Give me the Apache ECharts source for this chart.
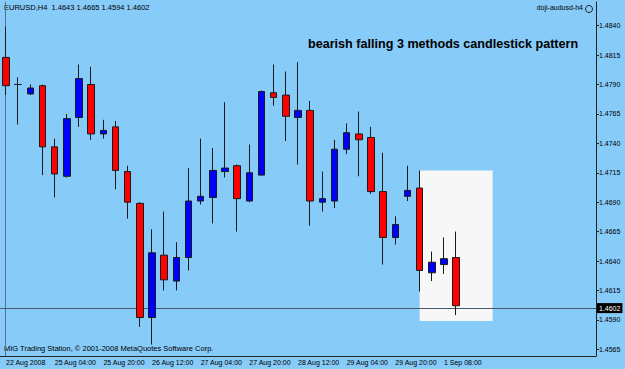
<!DOCTYPE html>
<html>
<head>
<meta charset="utf-8">
<script src="https://cdn.jsdelivr.net/npm/echarts@6/dist/echarts.min.js"></script>
<style>
html, body { margin: 0; padding: 0; background: #87CBF9; }
#chart { width: 625px; height: 369px; }
</style>
</head>
<body>
<div id="chart"></div>
<script>
// H4 bars, EURUSD
var times = ['22 Aug 16:00','22 Aug 20:00','24 Aug 20:00','25 Aug 00:00','25 Aug 04:00','25 Aug 08:00','25 Aug 12:00','25 Aug 16:00',
	'25 Aug 20:00','26 Aug 00:00','26 Aug 04:00','26 Aug 08:00','26 Aug 12:00','26 Aug 16:00','26 Aug 20:00','27 Aug 00:00',
	'27 Aug 04:00','27 Aug 08:00','27 Aug 12:00','27 Aug 16:00','27 Aug 20:00','28 Aug 00:00','28 Aug 04:00','28 Aug 08:00',
	'28 Aug 12:00','28 Aug 16:00','28 Aug 20:00','29 Aug 00:00','29 Aug 04:00','29 Aug 08:00','29 Aug 12:00','29 Aug 16:00',
	'29 Aug 20:00','31 Aug 20:00','1 Sep 00:00','1 Sep 04:00','1 Sep 08:00','1 Sep 12:00'];
// empty slots right of the last bar
var emptyTimes = ['1 Sep 16:00','1 Sep 20:00','2 Sep 00:00','2 Sep 04:00','2 Sep 08:00','2 Sep 12:00','2 Sep 16:00','2 Sep 20:00',
	'3 Sep 00:00','3 Sep 04:00','3 Sep 08:00'];

var open  = [1.4813,1.4790,1.4782,1.4789,1.4737,1.4712,1.4762,1.4790,1.4748,1.4754,1.4716,1.4689,1.4592,1.4645,1.4623,1.4643,1.4691,1.4694,1.4716,
	1.4721,1.4691,1.4713,1.4783,1.4781,1.4762,1.4768,1.4690,1.4691,1.4735,1.4748,1.4745,1.4699,1.4660,1.4695,1.4702,1.4630,1.4637,1.4643];
var close = [1.4789,1.4790,1.4787,1.4737,1.4714,1.4761,1.4795,1.4748,1.4751,1.4717,1.4690,1.4592,1.4647,1.4624,1.4643,1.4691,1.4695,1.4717,1.4719,
	1.4693,1.4715,1.4784,1.4779,1.4763,1.4768,1.4691,1.4693,1.4735,1.4749,1.4743,1.4699,1.4660,1.4671,1.4700,1.4632,1.4639,1.4642,1.4602];
var low   = [1.4781,1.4756,1.4781,1.4713,1.4694,1.4711,1.4754,1.4743,1.4744,1.4701,1.4676,1.4584,1.4569,1.4615,1.4615,1.4632,1.4688,1.4672,1.4711,
	1.4665,1.4690,1.4713,1.4772,1.4742,1.4722,1.4670,1.4682,1.4685,1.4731,1.4712,1.4697,1.4637,1.4654,1.4691,1.4614,1.4623,1.4629,1.4594];
var high  = [1.4839,1.4796,1.4790,1.4790,1.4744,1.4765,1.4807,1.4805,1.4760,1.4759,1.4721,1.4690,1.4667,1.4682,1.4656,1.4719,1.4744,1.4736,1.4775,
	1.4722,1.4739,1.4785,1.4807,1.4801,1.4809,1.4776,1.4716,1.4743,1.4757,1.4767,1.4754,1.4732,1.4678,1.4721,1.4717,1.4648,1.4660,1.4665];

var priceTicks = [1.4565,1.4590,1.4615,1.4640,1.4665,1.4690,1.4715,1.4740,1.4765,1.4790,1.4815,1.4840];
var lastPrice = 1.4602;
// highlighted pattern box
var boxFrom = '1 Sep 00:00', boxTo = '2 Sep 00:00';
var boxTop = 1.4717, boxBottom = 1.4589;

var yMin = 1.45593, yMax = 1.48601;
var smallFont = 'Liberation Sans';

var candles = [];
for (var i = 0; i < times.length; i++) {
	candles.push([open[i], close[i], low[i], high[i]]);
}
var showLabel = function (idx) {
	return idx < times.length && idx % 4 === 0;
};

var myChart = echarts.init(document.getElementById('chart'), null, {renderer: 'svg'});
var option = {
	backgroundColor: '#87CBF9',
	animation: false,
	grid: {left: -3, right: 29, top: 2, bottom: 13},
	xAxis: {
		type: 'category',
		data: times.concat(emptyTimes),
		boundaryGap: true,
		axisLine: {lineStyle: {color: '#222', width: 1}},
		axisTick: {interval: showLabel, alignWithLabel: true, length: 3, lineStyle: {color: '#222'}},
		axisLabel: {
			interval: showLabel,
			align: 'left',
			margin: 3,
			fontSize: 7,
			fontFamily: smallFont,
			color: '#000',
			formatter: function (v, idx) { return idx === 0 ? '22 Aug 2008' : v; }
		},
		splitLine: {show: false}
	},
	yAxis: [{
		type: 'value',
		position: 'right',
		min: yMin,
		max: yMax,
		axisLine: {show: true, lineStyle: {color: '#222'}},
		axisTick: {show: true, length: 3, customValues: priceTicks, lineStyle: {color: '#222'}},
		axisLabel: {
			customValues: priceTicks,
			margin: 3,
			fontSize: 7,
			fontFamily: smallFont,
			color: '#000',
			formatter: function (v) { return v.toFixed(4); }
		},
		splitLine: {show: false}
	}, {
		type: 'value',
		position: 'left',
		offset: -5,
		min: yMin,
		max: yMax,
		axisLine: {show: true, lineStyle: {color: '#55708a'}},
		axisTick: {show: false},
		axisLabel: {show: false},
		splitLine: {show: false}
	}],
	graphic: [
		{type: 'text', left: 4, top: 3, style: {text: 'EURUSD,H4  1.4643 1.4665 1.4594 1.4602', font: '7.5px ' + smallFont, fill: '#000'}},
		{type: 'text', left: 308, top: 37, style: {text: 'bearish falling 3 methods candlestick pattern', font: 'bold 12.6px Liberation Sans', fill: '#000'}},
		{type: 'text', right: 42, top: 4, style: {text: 'doji-audusd-h4', font: '7px ' + smallFont, fill: '#000'}},
		{type: 'circle', shape: {cx: 589, cy: 9, r: 3.5}, style: {fill: 'none', stroke: '#222', lineWidth: 1}},
		{type: 'text', left: 4, top: 344, style: {text: 'MIG Trading Station, \u00a9 2001-2008 MetaQuotes Software Corp.', font: '7.5px ' + smallFont, fill: '#000'}}
	],
	series: [{
		name: 'EURUSD',
		type: 'candlestick',
		z: 3,
		barWidth: 7,
		data: candles,
		itemStyle: {
			color: '#0000FF',
			color0: '#FF0000',
			borderColor: '#1a1a1a',
			borderColor0: '#1a1a1a',
			borderWidth: 1
		},
		markArea: {
			z: 1,
			silent: true,
			itemStyle: {color: '#F7F7F7'},
			data: [[{xAxis: boxFrom, yAxis: boxTop}, {xAxis: boxTo, yAxis: boxBottom}]]
		},
		markLine: {
			z: 2,
			silent: true,
			symbol: ['none', 'none'],
			lineStyle: {color: '#4a5a66', width: 1, type: 'solid'},
			label: {
				position: 'end',
				distance: 1,
				formatter: lastPrice.toFixed(4),
				backgroundColor: '#000',
				color: '#fff',
				padding: [2, 2, 1, 2],
				fontSize: 7,
				fontFamily: smallFont
			},
			data: [{yAxis: lastPrice}]
		}
	}]
};
myChart.setOption(option);
</script>
</body>
</html>
